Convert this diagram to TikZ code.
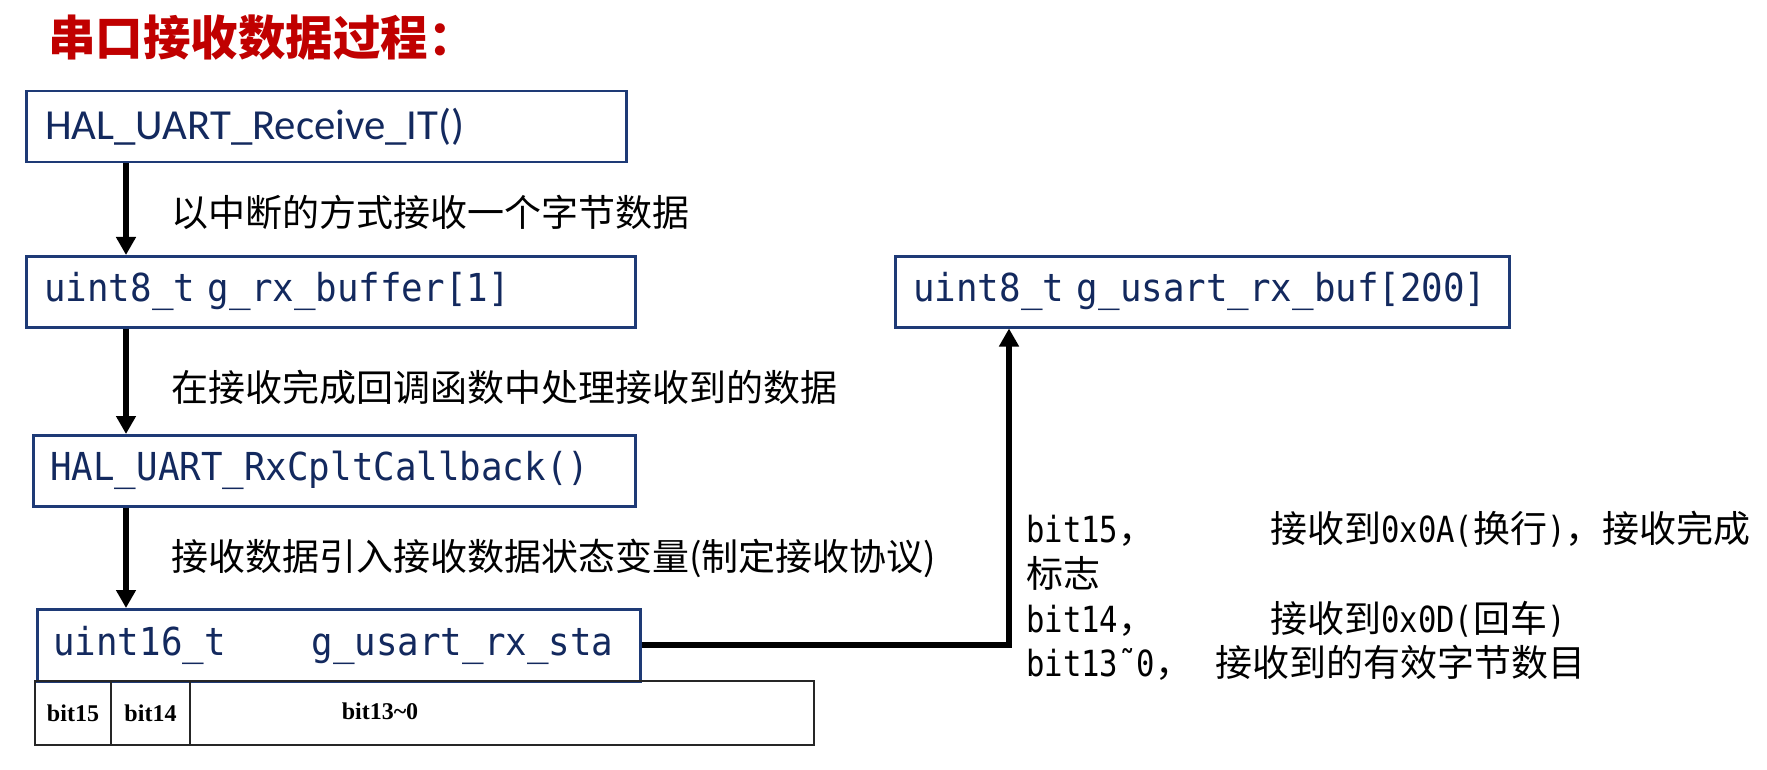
\documentclass[tikz,border=0pt]{standalone}
\usepackage{fontspec}
\setmainfont{Noto Sans CJK SC}
\newfontfamily\monoA[FakeStretch=0.93]{DejaVu Sans Mono}
\newfontfamily\monoB[FakeStretch=0.85]{DejaVu Sans Mono}
\newfontfamily\calf{Carlito}
\newfontfamily\timesf{Liberation Serif}
\usetikzlibrary{arrows.meta}
\definecolor{titlered}{HTML}{C00000}
\definecolor{boxline}{HTML}{1E3A76}
\definecolor{boxtext}{HTML}{13295E}
\definecolor{tabline}{HTML}{262626}
\tikzset{
  codebox/.style={draw=boxline, line width=2.5pt, anchor=north west,
    minimum height=71pt, inner ysep=0pt, align=left, text=boxtext},
  monotext/.style={font=\monoA\fontsize{38.5}{42}\selectfont},
  lbl/.style={anchor=west, inner sep=0pt, font=\fontsize{37}{40}\selectfont},
  rtxt/.style={anchor=base west, inner sep=0pt, font=\fontsize{37}{40}\selectfont},
  cell/.style={draw=tabline, line width=2pt, anchor=north west,
    minimum height=64pt, inner sep=0pt},
  bitlbl/.style={inner sep=0pt, font=\timesf\bfseries\fontsize{24}{26}\selectfont},
  arr/.style={line width=5.5pt, -{Triangle[width=19pt,length=18pt]}}
}
\begin{document}
\begin{tikzpicture}[x=1pt,y=-1pt]
\useasboundingbox (0,0) rectangle (1767,770);
\fill[white] (0,0) rectangle (1767,770);

% title
\node[anchor=west, inner sep=0pt, text=titlered,
  font=\bfseries\fontsize{47.5}{50}\selectfont] (title) at (48,38) {串口接收数据过程：};

% code boxes
\node[codebox, inner xsep=19pt, text width=562pt,
  font=\calf\fontsize{42.8}{46}\selectfont] (b1) at (25,90) {HAL\_UART\_Receive\_IT()};
\node[codebox, monotext, inner xsep=18pt, text width=573pt] (b2) at (25,255)
  {uint8\_t g\_rx\_buffer[1]};
\node[codebox, monotext, inner xsep=17pt, text width=568pt] (b3) at (32,434)
  {HAL\_UART\_RxCpltCallback()};
\node[codebox, monotext, inner xsep=16pt, text width=571pt, minimum height=72pt] (b4) at (36,608)
  {uint16\_t\hspace{86pt}g\_usart\_rx\_sta};
\node[codebox, monotext, inner xsep=18pt, text width=578pt] (rb) at (894,255)
  {uint8\_t g\_usart\_rx\_buf[200]};

% bit table
\node[cell, minimum width=76pt] (c1) at (34,680) {};
\node[cell, minimum width=79pt] (c2) at (110,680) {};
\node[cell, minimum width=624pt] (c3) at (189,680) {};
\node[bitlbl] (t1) at (c1.center) {bit15};
\node[bitlbl] (t2) at (c2.center) {bit14};
\node[bitlbl] (t3) at (380,711) {bit13\textasciitilde0};

% labels on arrows
\node[lbl] (l1) at (171,212) {以中断的方式接收一个字节数据};
\node[lbl] (l2) at (171,387) {在接收完成回调函数中处理接收到的数据};
\node[lbl] (l3) at (171,558) {接收数据引入接收数据状态变量(制定接收协议)};

% right explanation
\node[rtxt] (r1a) at (1026,542) {{\monoB\fontsize{36}{40}\selectfont bit15}，};
\node[rtxt] (r1b) at (1270,542) {接收到{\monoB\fontsize{36}{40}\selectfont 0x0A(}换行{\monoB\fontsize{36}{40}\selectfont )}，接收完成};
\node[rtxt] (r2) at (1026,587) {标志};
\node[rtxt] (r3a) at (1026,632) {{\monoB\fontsize{36}{40}\selectfont bit14}，};
\node[rtxt] (r3b) at (1270,632) {接收到{\monoB\fontsize{36}{40}\selectfont 0x0D(}回车{\monoB\fontsize{36}{40}\selectfont )}};
\node[rtxt] (r4a) at (1026,676) {{\monoB\fontsize{36}{40}\selectfont bit13˜0}，};
\node[rtxt] (r4b) at (1215,676) {接收到的有效字节数目};

% connectors
\coordinate (ax) at (126,0);
\coordinate (cx) at (1009,0);
\draw[arr] (b1.south -| ax) -- (b2.north -| ax);
\draw[arr] (b2.south -| ax) -- (b3.north -| ax);
\draw[arr] (b3.south -| ax) -- (b4.north -| ax);
\draw[arr, line width=6pt] (b4.east) -- (b4.east -| cx) -- (cx |- rb.south);
\end{tikzpicture}
\end{document}
